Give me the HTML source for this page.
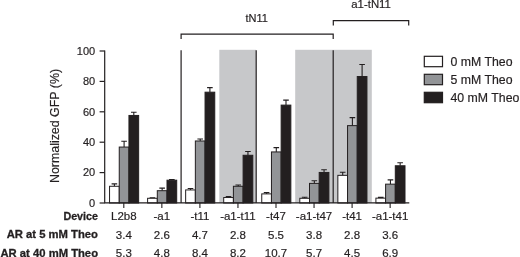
<!DOCTYPE html>
<html><head><meta charset="utf-8"><title>Chart</title>
<style>html,body{margin:0;padding:0;background:#fff;overflow:hidden}body{width:520px;height:257px}</style></head>
<body>
<svg width="520" height="257" viewBox="0 0 520 257" style="display:block;will-change:transform" font-family="'Liberation Sans', sans-serif" fill="#231f20"><style>text{stroke:#231f20;stroke-width:0.18px}</style>
<rect width="520" height="257" fill="#fff"/>
<rect x="219.3" y="49.8" width="36.7" height="153.2" fill="#c7c8ca"/>
<rect x="295.2" y="49.8" width="76.6" height="153.2" fill="#c7c8ca"/>
<path d="M114.40 186.28V183.85M111.60 183.85H117.20" stroke="#231f20" stroke-width="1.1" fill="none"/>
<rect x="109.55" y="186.28" width="9.70" height="16.72" fill="#fff" stroke="#231f20" stroke-width="1"/>
<path d="M124.10 147.06V141.29M121.30 141.29H126.90" stroke="#231f20" stroke-width="1.1" fill="none"/>
<rect x="119.25" y="147.06" width="9.70" height="55.94" fill="#929497" stroke="#231f20" stroke-width="1"/>
<path d="M133.80 115.45V112.26M131.00 112.26H136.60" stroke="#231f20" stroke-width="1.1" fill="none"/>
<rect x="128.95" y="115.45" width="9.70" height="87.55" fill="#231f20" stroke="#231f20" stroke-width="1"/>
<path d="M152.45 198.29V197.68M149.65 197.68H155.25" stroke="#231f20" stroke-width="1.1" fill="none"/>
<rect x="147.60" y="198.29" width="9.70" height="4.71" fill="#fff" stroke="#231f20" stroke-width="1"/>
<path d="M162.15 190.69V188.10M159.35 188.10H164.95" stroke="#231f20" stroke-width="1.1" fill="none"/>
<rect x="157.30" y="190.69" width="9.70" height="12.31" fill="#929497" stroke="#231f20" stroke-width="1"/>
<path d="M171.85 180.20V179.44M169.05 179.44H174.65" stroke="#231f20" stroke-width="1.1" fill="none"/>
<rect x="167.00" y="180.20" width="9.70" height="22.80" fill="#231f20" stroke="#231f20" stroke-width="1"/>
<path d="M190.50 189.93V188.56M187.70 188.56H193.30" stroke="#231f20" stroke-width="1.1" fill="none"/>
<rect x="185.65" y="189.93" width="9.70" height="13.07" fill="#fff" stroke="#231f20" stroke-width="1"/>
<path d="M200.20 140.98V139.01M197.40 139.01H203.00" stroke="#231f20" stroke-width="1.1" fill="none"/>
<rect x="195.35" y="140.98" width="9.70" height="62.02" fill="#929497" stroke="#231f20" stroke-width="1"/>
<path d="M209.90 92.19V87.63M207.10 87.63H212.70" stroke="#231f20" stroke-width="1.1" fill="none"/>
<rect x="205.05" y="92.19" width="9.70" height="110.81" fill="#231f20" stroke="#231f20" stroke-width="1"/>
<path d="M228.55 197.53V196.46M225.75 196.46H231.35" stroke="#231f20" stroke-width="1.1" fill="none"/>
<rect x="223.70" y="197.53" width="9.70" height="5.47" fill="#fff" stroke="#231f20" stroke-width="1"/>
<path d="M238.25 186.28V185.06M235.45 185.06H241.05" stroke="#231f20" stroke-width="1.1" fill="none"/>
<rect x="233.40" y="186.28" width="9.70" height="16.72" fill="#929497" stroke="#231f20" stroke-width="1"/>
<path d="M247.95 155.27V151.47M245.15 151.47H250.75" stroke="#231f20" stroke-width="1.1" fill="none"/>
<rect x="243.10" y="155.27" width="9.70" height="47.73" fill="#231f20" stroke="#231f20" stroke-width="1"/>
<path d="M266.60 193.88V192.66M263.80 192.66H269.40" stroke="#231f20" stroke-width="1.1" fill="none"/>
<rect x="261.75" y="193.88" width="9.70" height="9.12" fill="#fff" stroke="#231f20" stroke-width="1"/>
<path d="M276.30 151.93V147.67M273.50 147.67H279.10" stroke="#231f20" stroke-width="1.1" fill="none"/>
<rect x="271.45" y="151.93" width="9.70" height="51.07" fill="#929497" stroke="#231f20" stroke-width="1"/>
<path d="M286.00 105.11V100.10M283.20 100.10H288.80" stroke="#231f20" stroke-width="1.1" fill="none"/>
<rect x="281.15" y="105.11" width="9.70" height="97.89" fill="#231f20" stroke="#231f20" stroke-width="1"/>
<path d="M304.65 198.29V197.22M301.85 197.22H307.45" stroke="#231f20" stroke-width="1.1" fill="none"/>
<rect x="299.80" y="198.29" width="9.70" height="4.71" fill="#fff" stroke="#231f20" stroke-width="1"/>
<path d="M314.35 183.39V180.81M311.55 180.81H317.15" stroke="#231f20" stroke-width="1.1" fill="none"/>
<rect x="309.50" y="183.39" width="9.70" height="19.61" fill="#929497" stroke="#231f20" stroke-width="1"/>
<path d="M324.05 172.45V169.71M321.25 169.71H326.85" stroke="#231f20" stroke-width="1.1" fill="none"/>
<rect x="319.20" y="172.45" width="9.70" height="30.55" fill="#231f20" stroke="#231f20" stroke-width="1"/>
<path d="M342.70 175.34V172.30M339.90 172.30H345.50" stroke="#231f20" stroke-width="1.1" fill="none"/>
<rect x="337.85" y="175.34" width="9.70" height="27.66" fill="#fff" stroke="#231f20" stroke-width="1"/>
<path d="M352.40 125.63V117.58M349.60 117.58H355.20" stroke="#231f20" stroke-width="1.1" fill="none"/>
<rect x="347.55" y="125.63" width="9.70" height="77.37" fill="#929497" stroke="#231f20" stroke-width="1"/>
<path d="M362.10 76.54V64.53M359.30 64.53H364.90" stroke="#231f20" stroke-width="1.1" fill="none"/>
<rect x="357.25" y="76.54" width="9.70" height="126.46" fill="#231f20" stroke="#231f20" stroke-width="1"/>
<path d="M380.75 198.14V197.38M377.95 197.38H383.55" stroke="#231f20" stroke-width="1.1" fill="none"/>
<rect x="375.90" y="198.14" width="9.70" height="4.86" fill="#fff" stroke="#231f20" stroke-width="1"/>
<path d="M390.45 184.15V179.90M387.65 179.90H393.25" stroke="#231f20" stroke-width="1.1" fill="none"/>
<rect x="385.60" y="184.15" width="9.70" height="18.85" fill="#929497" stroke="#231f20" stroke-width="1"/>
<path d="M400.15 165.76V162.72M397.35 162.72H402.95" stroke="#231f20" stroke-width="1.1" fill="none"/>
<rect x="395.30" y="165.76" width="9.70" height="37.24" fill="#231f20" stroke="#231f20" stroke-width="1"/>
<path d="M104.7 50.6V202.8H409.3" stroke="#231f20" stroke-width="1.2" fill="none"/>
<path d="M99.6 203.00H104.7" stroke="#231f20" stroke-width="1.2"/>
<text x="95.2" y="206.80" font-size="11" text-anchor="end">0</text>
<path d="M99.6 172.60H104.7" stroke="#231f20" stroke-width="1.2"/>
<text x="95.2" y="176.40" font-size="11" text-anchor="end">20</text>
<path d="M99.6 142.20H104.7" stroke="#231f20" stroke-width="1.2"/>
<text x="95.2" y="146.00" font-size="11" text-anchor="end">40</text>
<path d="M99.6 111.80H104.7" stroke="#231f20" stroke-width="1.2"/>
<text x="95.2" y="115.60" font-size="11" text-anchor="end">60</text>
<path d="M99.6 81.40H104.7" stroke="#231f20" stroke-width="1.2"/>
<text x="95.2" y="85.20" font-size="11" text-anchor="end">80</text>
<path d="M99.6 51.00H104.7" stroke="#231f20" stroke-width="1.2"/>
<text x="95.2" y="54.80" font-size="11" text-anchor="end">100</text>
<path d="M123.80 203V207.9" stroke="#231f20" stroke-width="1.1"/>
<path d="M161.85 203V207.9" stroke="#231f20" stroke-width="1.1"/>
<path d="M199.90 203V207.9" stroke="#231f20" stroke-width="1.1"/>
<path d="M237.95 203V207.9" stroke="#231f20" stroke-width="1.1"/>
<path d="M276.00 203V207.9" stroke="#231f20" stroke-width="1.1"/>
<path d="M314.05 203V207.9" stroke="#231f20" stroke-width="1.1"/>
<path d="M352.10 203V207.9" stroke="#231f20" stroke-width="1.1"/>
<path d="M390.15 203V207.9" stroke="#231f20" stroke-width="1.1"/>
<path d="M181.10 50.2V203" stroke="#231f20" stroke-width="1.2"/>
<path d="M256.20 50.2V203" stroke="#231f20" stroke-width="1.2"/>
<path d="M333.20 50.2V203" stroke="#231f20" stroke-width="1.2"/>
<path d="M181.1 39V34.1H333.2V39" stroke="#231f20" stroke-width="1.2" fill="none"/>
<path d="M333.3 25.4V20.6H408.7V25.4" stroke="#231f20" stroke-width="1.2" fill="none"/>
<text x="256.6" y="22" font-size="11" text-anchor="middle">tN11</text>
<text x="371.1" y="8.3" font-size="11.4" text-anchor="middle">a1-tN11</text>
<text transform="translate(58.6 126) rotate(-90)" font-size="12.4" text-anchor="middle">Normalized GFP (%)</text>
<rect x="424.3" y="56.30" width="18.2" height="10.4" fill="#fff" stroke="#231f20" stroke-width="1.2"/>
<text x="450.5" y="65.60" font-size="12.3">0 mM Theo</text>
<rect x="424.3" y="74.30" width="18.2" height="10.4" fill="#929497" stroke="#231f20" stroke-width="1.2"/>
<text x="450.5" y="83.60" font-size="12.3">5 mM Theo</text>
<rect x="424.3" y="92.30" width="18.2" height="10.4" fill="#231f20" stroke="#231f20" stroke-width="1.2"/>
<text x="450.5" y="101.60" font-size="12.3">40 mM Theo</text>
<text x="123.80" y="220" font-size="11.5" text-anchor="middle">L2b8</text>
<text x="123.80" y="238.5" font-size="11.5" text-anchor="middle">3.4</text>
<text x="123.80" y="256.9" font-size="11.5" text-anchor="middle">5.3</text>
<text x="161.85" y="220" font-size="11.5" text-anchor="middle">-a1</text>
<text x="161.85" y="238.5" font-size="11.5" text-anchor="middle">2.6</text>
<text x="161.85" y="256.9" font-size="11.5" text-anchor="middle">4.8</text>
<text x="199.90" y="220" font-size="11.5" text-anchor="middle">-t11</text>
<text x="199.90" y="238.5" font-size="11.5" text-anchor="middle">4.7</text>
<text x="199.90" y="256.9" font-size="11.5" text-anchor="middle">8.4</text>
<text x="237.95" y="220" font-size="11.5" text-anchor="middle">-a1-t11</text>
<text x="237.95" y="238.5" font-size="11.5" text-anchor="middle">2.8</text>
<text x="237.95" y="256.9" font-size="11.5" text-anchor="middle">8.2</text>
<text x="276.00" y="220" font-size="11.5" text-anchor="middle">-t47</text>
<text x="276.00" y="238.5" font-size="11.5" text-anchor="middle">5.5</text>
<text x="276.00" y="256.9" font-size="11.5" text-anchor="middle">10.7</text>
<text x="314.05" y="220" font-size="11.5" text-anchor="middle">-a1-t47</text>
<text x="314.05" y="238.5" font-size="11.5" text-anchor="middle">3.8</text>
<text x="314.05" y="256.9" font-size="11.5" text-anchor="middle">5.7</text>
<text x="352.10" y="220" font-size="11.5" text-anchor="middle">-t41</text>
<text x="352.10" y="238.5" font-size="11.5" text-anchor="middle">2.8</text>
<text x="352.10" y="256.9" font-size="11.5" text-anchor="middle">4.5</text>
<text x="390.15" y="220" font-size="11.5" text-anchor="middle">-a1-t41</text>
<text x="390.15" y="238.5" font-size="11.5" text-anchor="middle">3.6</text>
<text x="390.15" y="256.9" font-size="11.5" text-anchor="middle">6.9</text>
<text x="98" y="219.5" font-size="11.4" font-weight="bold" style="stroke-width:0.3px" text-anchor="end" textLength="34.6" lengthAdjust="spacingAndGlyphs">Device</text>
<text x="98" y="238.3" font-size="11.25" font-weight="bold" style="stroke-width:0.3px" text-anchor="end">AR at 5 mM Theo</text>
<text x="98" y="256.5" font-size="11.25" font-weight="bold" style="stroke-width:0.3px" text-anchor="end">AR at 40 mM Theo</text>
</svg>
</body></html>
